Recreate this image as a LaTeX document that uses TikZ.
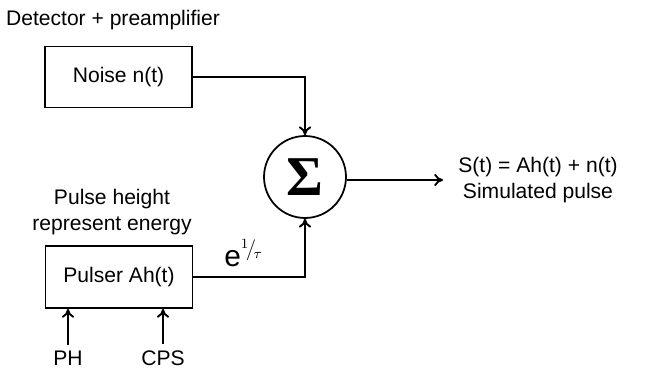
\documentclass[tikz,border=0pt]{standalone}
\usepackage{fontspec}
\setmainfont{Liberation Sans}
\newfontfamily\sigmafont{Liberation Serif}
\usetikzlibrary{arrows.meta}
\begin{document}
\begin{tikzpicture}[x=0.02cm, y=-0.02cm,
    block/.style={draw, line width=1.1pt, minimum width=2.94cm, minimum height=1.22cm, font=\fontsize{12}{14}\selectfont},
    caption/.style={align=center, font=\fontsize{12}{14.5}\selectfont},
    link/.style={line width=1.1pt, -{To[length=5pt, width=7pt]}}]
    \useasboundingbox (0,0) rectangle (649,371);
    % Detector part: title and noise source
    \node[caption] (title) at (113, 20) {Detector + preamplifier};
    \node[block] (noise) at (118.5, 77) {Noise n(t)};
    % Pulser part with its inputs
    \node[caption] (energy) at (112, 212) {Pulse height\\represent energy};
    \node[block, minimum height=1.24cm] (pulser) at (119, 277) {Pulser Ah(t)};
    \node[caption] (ph)  at (68, 358)  {PH};
    \node[caption] (cps) at (163, 358) {CPS};
    % Summing junction and output
    \node[circle, draw, line width=1pt, minimum size=1.64cm, inner sep=0pt] (sum) at (305, 177)
        {\sigmafont\bfseries\fontsize{32}{32}\selectfont Σ};
    \node[caption] (out) at (538, 180) {S(t) = Ah(t) + n(t)\\Simulated pulse};
    \coordinate (tip) at (443, 180);
    % Connectors
    \draw[link] (noise.east) -| (sum.north);
    \draw[link] (pulser.east) -| (sum.south);
    \node (expo) at (244, 253) {\fontsize{17}{17}\selectfont$\mathrm{e}^{{}^{1}\!/_{\!\tau}}$};
    \draw[link] (sum.east |- tip) -- (tip);
    \draw[link] (ph.north) -- (ph.north |- pulser.south);
    \draw[link] (cps.north) -- (cps.north |- pulser.south);
\end{tikzpicture}
\end{document}
